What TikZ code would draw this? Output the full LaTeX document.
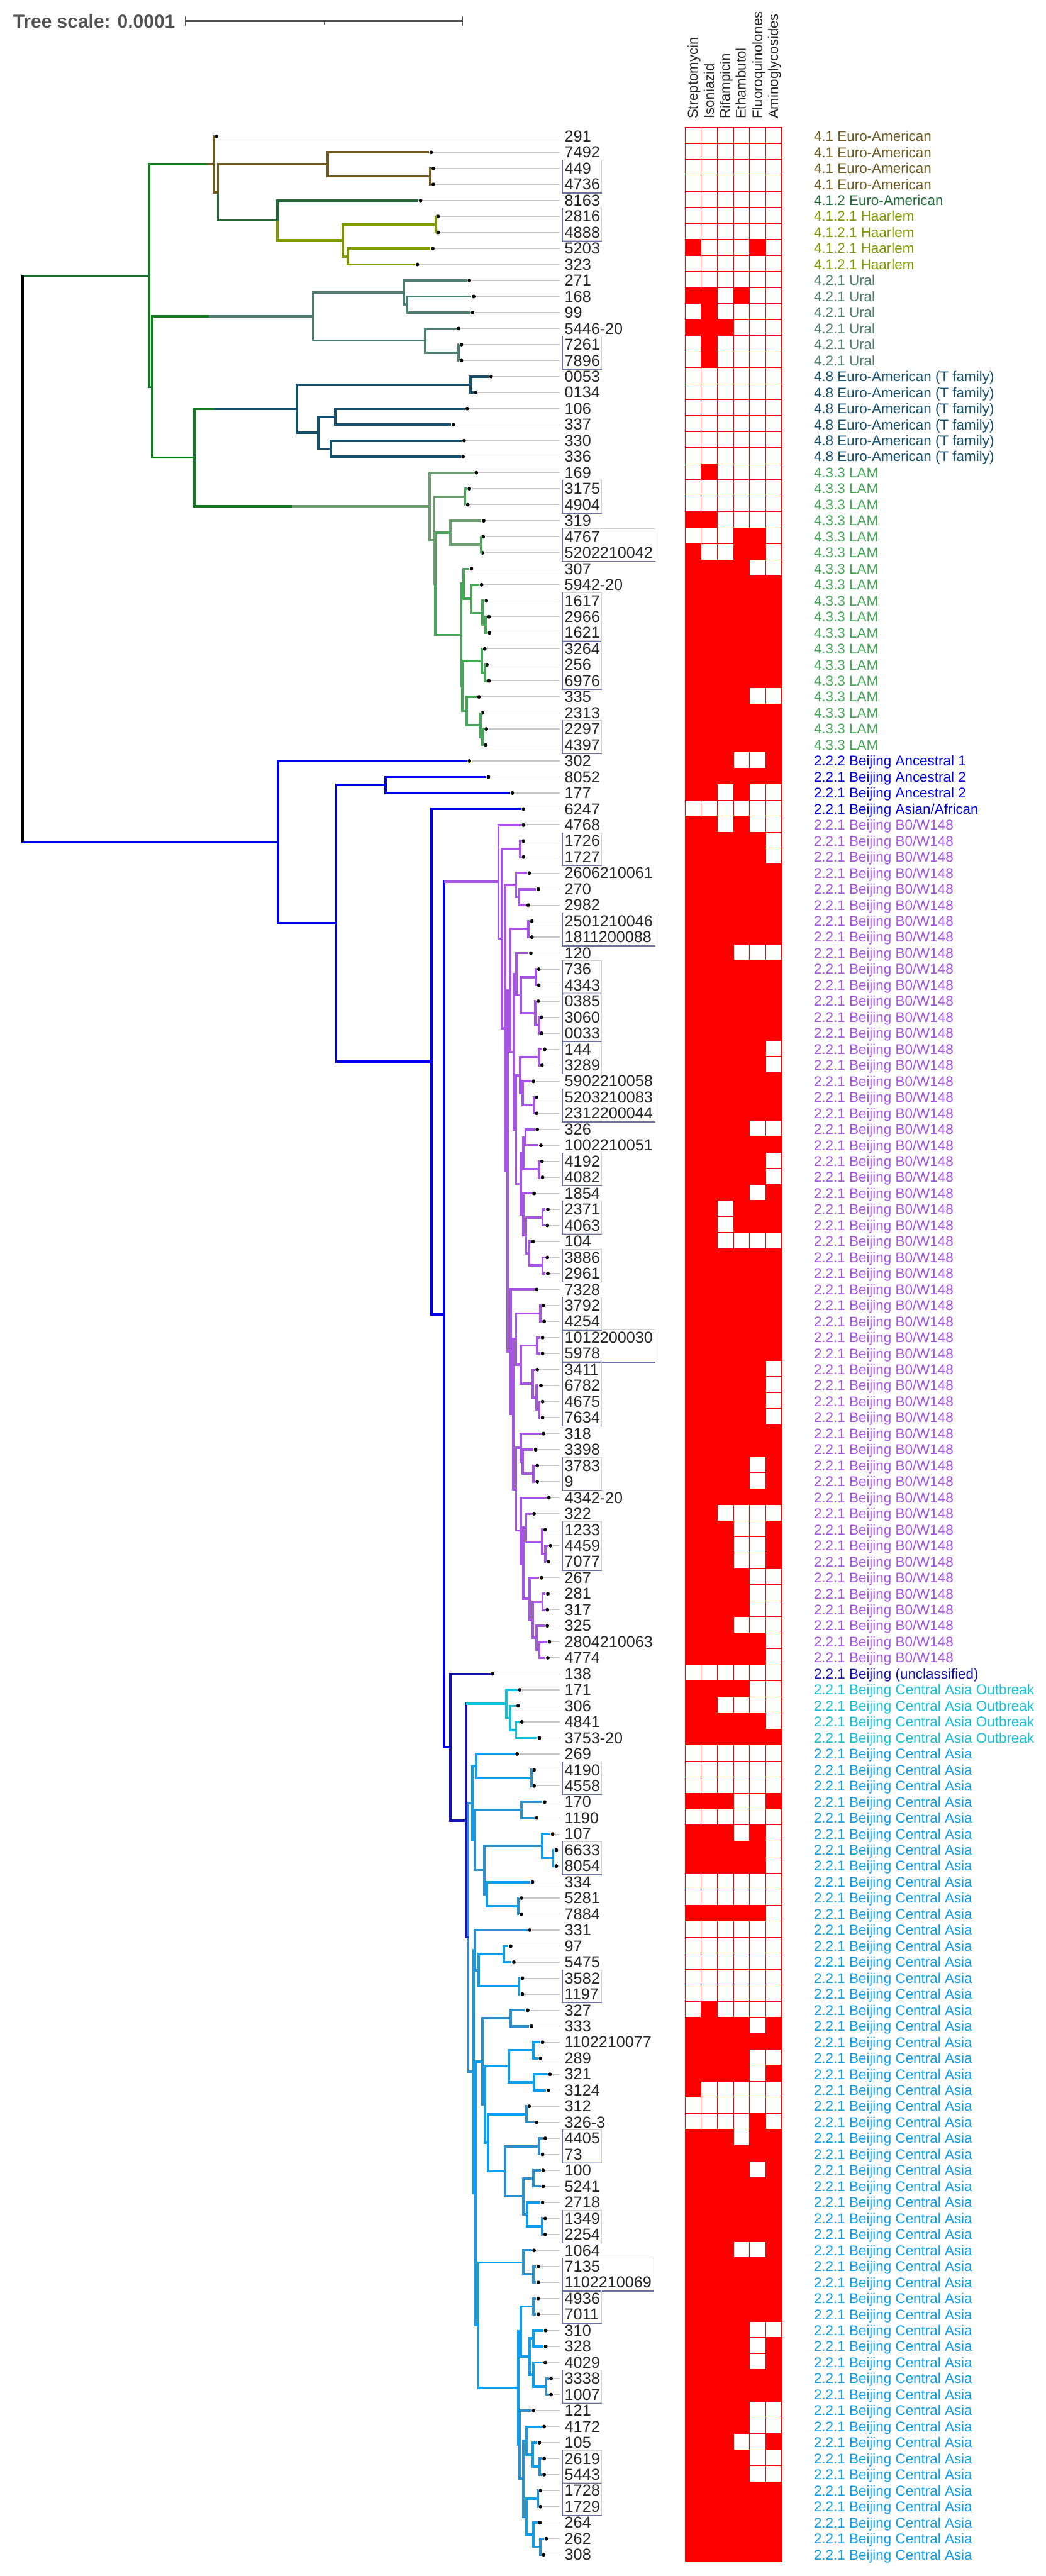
\documentclass[tikz,border=0pt]{standalone}
\usepackage{fontspec}
\setmainfont{Liberation Sans}
\usetikzlibrary{calc,fit}
\definecolor{brn}{HTML}{6E5A20}
\definecolor{eug}{HTML}{1F6B35}
\definecolor{grn}{HTML}{0F7A1E}
\definecolor{hrl}{HTML}{7F9A00}
\definecolor{url}{HTML}{4F7F70}
\definecolor{tfm}{HTML}{14506E}
\definecolor{lmg}{HTML}{6D9D70}
\definecolor{lam}{HTML}{45A857}
\definecolor{blu}{HTML}{0000E6}
\definecolor{nvy}{HTML}{1414B4}
\definecolor{pur}{HTML}{A654E4}
\definecolor{cyn}{HTML}{12C0DC}
\definecolor{sky}{HTML}{0E9EEE}
\definecolor{skd}{HTML}{2A90D0}
\definecolor{grp}{HTML}{6A70A8}
\tikzstyle{branch}=[line width=.045cm]
\tikzstyle{tipdot}=[fill,black,shape=circle,inner sep=0pt,minimum size=.07cm]
\tikzstyle{tiplabel}=[anchor=west,inner xsep=.03cm,inner ysep=0pt,minimum height=.3cm,
  text=black!85,font=\fontsize{8.5}{10}\selectfont]
\tikzstyle{guide}=[draw=black!22,line width=.015cm,shorten >=.05cm]
\tikzstyle{grpbox}=[draw=black!18,line width=.012cm,inner sep=0pt]
\tikzstyle{grpedge}=[draw=grp,line width=.015cm]
\tikzstyle{linlabel}=[anchor=mid west,inner sep=0pt,font=\fontsize{7.56}{9}\selectfont]
\tikzstyle{druglabel}=[anchor=mid west,rotate=90,inner sep=0pt,text=black!85,
  font=\fontsize{7.5}{9}\selectfont]
% [second colour]{name}{x}{first child}{second child}{colour}
\newcommand\clade[6][]{%
  \path ($(#4)!.5!(#5)$) coordinate (#2m);
  \coordinate (#2) at (#3,0 |- #2m);
  \draw[branch,#6] (#2) |- (#4);
  \draw[branch,#6,#1] (#2) |- (#5);
}
\begin{document}
\begin{tikzpicture}[x=.01cm,y=-.30185cm]
  \useasboundingbox (0,-7.514) rectangle (1972,153.33);
  % scale bar
  \node[anchor=west,inner sep=0pt,text=black!68,font=\fontsize{10.1}{12}\selectfont\bfseries]
    (sclabel) at (24,-6.2) {Tree scale: 0.0001};
  \coordinate (sb0) at (349,-6.2);
  \coordinate (sbm) at (611,-6.2);
  \coordinate (sb1) at (872,-6.2);
  \draw[black!68,line width=.03cm] (sb0) -- (sb1);
  \draw[black!68,line width=.015cm] (sb0) +(0,-.3) -- +(0,.3);
  \draw[black!68,line width=.015cm] (sb1) +(0,-.3) -- +(0,.3);
  \draw[black!68,line width=.015cm] (sbm) -- +(0,.22);
  % drug columns
  \foreach \x/\drug [count=\i] in {1306/Streptomycin,1337/Isoniazid,1367/Rifampicin,
    1397/Ethambutol,1428/Fluoroquinolones,1458/Aminoglycosides}
    \node[druglabel] (drug\i) at (\x,-.075) {\drug};
  % resistant cells
  \foreach \a/\b/\cols in {8/8/{0,4},11/11/{0,1,3},12/12/{1},13/13/{0,1,2},14/15/{1},22/22/{1},
    25/25/{0,1},26/26/{3,4},27/27/{0,3,4},28/28/{0,1,2,3},29/35/{0,...,5},36/36/{0,1,2,3},
    37/39/{0,...,5},40/40/{0,1,2,5},41/41/{0,...,5},42/42/{0,1,3},44/44/{0,1,3},
    45/46/{0,...,4},47/51/{0,...,5},52/52/{0,1,2},53/57/{0,...,5},58/59/{0,...,4},
    60/62/{0,...,5},63/63/{0,1,2,3},64/64/{0,...,5},65/66/{0,...,4},67/67/{0,1,2,3,5},
    68/69/{0,1,3,4,5},70/70/{0,1},71/77/{0,...,5},78/81/{0,...,4},82/83/{0,...,5},
    84/85/{0,1,2,3,5},86/86/{0,...,5},87/87/{0,1},88/90/{0,1,2,5},91/93/{0,1,2,3},
    94/94/{0,1,2},95/96/{0,...,4},98/98/{0,1,2,3},99/99/{0,1},100/100/{0,...,4},
    101/101/{0,...,5},105/105/{0,1,2,5},107/107/{0,1,2,4},108/109/{0,...,4},112/112/{0,...,4},
    118/118/{1},119/119/{0,1,2,3,5},120/120/{0,...,5},121/121/{0,1,2,3},122/122/{0,1,2,3,5},
    123/123/{0},125/125/{4},126/126/{0,1,2,4,5},127/127/{0,...,5},128/128/{0,1,2,3,5},
    129/132/{0,...,5},133/133/{0,1,2,5},134/137/{0,...,5},138/138/{0,1,2,3},
    139/140/{0,1,2,3,5},141/142/{0,...,5},143/144/{0,1,2,3},145/145/{0,1,2,5},
    146/147/{0,1,2,3},148/152/{0,...,5}}
    \foreach \c in \cols
      \fill[red] ({1292+30.33*\c},\a-.56) rectangle ({1292+30.33*(\c+1)},\b+.44);
  \foreach \i in {0,...,152}
    \draw[red,line width=.012cm] (1292,\i+.44) -- (1474,\i+.44);
  \foreach \c in {0,...,6}
    \draw[red,line width=.012cm] ({1292+30.33*\c},.44) -- ({1292+30.33*\c},152.44);
  \draw[red,line width=.02cm] (1292,.44) rectangle (1474,152.44);
  % lineage column
  \foreach \a/\b/\txt/\col in {1/4/4.1 Euro-American/brn,5/5/4.1.2 Euro-American/eug,
    6/9/4.1.2.1 Haarlem/hrl,10/15/4.2.1 Ural/url,16/21/4.8 Euro-American (T family)/tfm,
    22/39/4.3.3 LAM/lam,40/40/2.2.2 Beijing Ancestral 1/blu,41/42/2.2.1 Beijing Ancestral 2/blu,
    43/43/{2.2.1 Beijing Asian/African}/blu,44/96/{2.2.1 Beijing B0/W148}/pur,
    97/97/2.2.1 Beijing (unclassified)/nvy,98/101/2.2.1 Beijing Central Asia Outbreak/cyn,
    102/152/2.2.1 Beijing Central Asia/sky}
    \foreach \i in {\a,...,\b}
      \node[linlabel,text=\col] (lin\i) at (1534,\i) {\txt};
  % tips and their labels
  \foreach \lab/\tipx [count=\i] in {291/408,7492/813,449/817,4736/817,8163/793,2816/826,
    4888/826,5203/816,323/787,271/885,168/893,99/891,5446-20/865,7261/870,7896/870,0053/926,
    0134/897,106/881,337/855,330/875,336/873,169/898,3175/885,4904/882,319/912,4767/911,
    5202210042/910,307/889,5942-20/908,1617/917,2966/922,1621/923,3264/914,256/918,6976/922,
    335/903,2313/910,2297/917,4397/916,302/885,8052/921,177/966,6247/987,4768/987,1726/987,
    1727/987,2606210061/998,270/1015,2982/996,2501210046/1003,1811200088/1003,120/1001,
    736/1016,4343/1016,0385/1015,3060/1021,0033/1021,144/1027,3289/1022,5902210058/1006,
    5203210083/1012,2312200044/1012,326/1013,1002210051/1020,4192/1022,4082/1023,1854/1007,
    2371/1033,4063/1032,104/1005,3886/1032,2961/1033,7328/1012,3792/1025,4254/1026,
    1012200030/1023,5978/1023,3411/1013,6782/1020,4675/1023,7634/1023,318/1025,3398/1010,
    3783/1013,9/1013,4342-20/1035,322/1007,1233/1028,4459/1038,7077/1034,267/1021,281/1033,
    317/1032,325/1032,2804210063/1036,4774/1033,138/929,171/980,306/977,4841/984,3753-20/1017,
    269/975,4190/1007,4558/1007,170/1027,1190/1012,107/1042,6633/1049,8054/1049,334/1004,
    5281/983,7884/983,331/999,97/963,5475/969,3582/985,1197/985,327/995,333/1002,
    1102210077/1023,289/1019,321/1037,3124/1034,312/998,326-3/1012,4405/1028,73/1023,100/1024,
    5241/1024,2718/1023,1349/1028,2254/1028,1064/1007,7135/1015,1102210069/1015,4936/1015,
    7011/1015,310/1029,328/1029,4029/1028,3338/1039,1007/1039,121/1006,4172/1026,105/1017,
    2619/1026,5443/1026,1728/1019,1729/1019,264/1018,262/1030,308/1025}{
    \node[tipdot] (t\lab) at (\tipx,\i) {};
    \node[tiplabel] (l\lab) at (1061,\i) {\lab};
    \draw[guide] (t\lab) -- (l\lab);
  }
  % boxes round label groups
  \foreach \a/\b in {449/4736,2816/4888,7261/7896,3175/4904,4767/5202210042,1617/1621,3264/6976,
    2297/4397,1726/1727,2501210046/1811200088,736/4343,0385/0033,144/3289,5203210083/2312200044,
    4192/4082,2371/4063,3886/2961,3792/4254,1012200030/5978,3411/7634,3783/9,1233/7077,4190/4558,
    6633/8054,3582/1197,4405/73,1349/2254,7135/1102210069,4936/7011,3338/1007,2619/5443,1728/1729}{
    \node[grpbox,fit=(l\a)(l\b)] (g\a) {};
    \draw[grpedge] (g\a.north west) |- (g\a.south east);
  }
  % 4.1 Euro-American and Haarlem
  \clade{eu1}{811}{t449}{t4736}{brn}
  \clade{eu2}{618}{t7492}{eu1}{brn}
  \clade{hl1}{822}{t2816}{t4888}{hrl}
  \clade{hl2}{656}{t5203}{t323}{hrl}
  \clade{hl3}{646}{hl1}{hl2}{hrl}
  \clade[hrl]{eu3}{523}{t8163}{hl3}{eug}
  \clade[eug]{eu4}{411}{eu2}{eu3}{brn}
  \clade{eu5}{403}{t291}{eu4}{brn}
  % Ural
  \clade{ur1}{767}{t168}{t99}{url}
  \clade{ur2}{761}{t271}{ur1}{url}
  \clade{ur3}{865}{t7261}{t7896}{url}
  \clade{ur4}{802}{t5446-20}{ur3}{url}
  \clade{ur5}{590}{ur2}{ur4}{url}
  % T family
  \clade{tf1}{887}{t0053}{t0134}{tfm}
  \clade{tf2}{632}{t106}{t337}{tfm}
  \clade{tf3}{624}{t330}{t336}{tfm}
  \clade{tf4}{600}{tf2}{tf3}{tfm}
  \clade{tf5}{560}{tf1}{tf4}{tfm}
  % LAM
  \clade{lm1}{877}{t3175}{t4904}{lam}
  \clade{lm2}{907}{t4767}{t5202210042}{lam}
  \clade{lm3}{849}{t319}{lm2}{lmg}
  \clade{lm4}{916}{t2966}{t1621}{lam}
  \clade{lm5}{910}{t1617}{lm4}{lam}
  \clade{lm6}{889}{t5942-20}{lm5}{lam}
  \clade{lm7}{874}{t307}{lm6}{lam}
  \clade{lm8}{914}{t256}{t6976}{lam}
  \clade{lm9}{908}{t3264}{lm8}{lam}
  \clade{lm10}{910}{t2297}{t4397}{lam}
  \clade{lm11}{906}{t2313}{lm10}{lam}
  \clade{lm12}{880}{t335}{lm11}{lam}
  \clade{lm13}{872}{lm9}{lm12}{lam}
  \clade{lm14}{870}{lm7}{lm13}{lam}
  \clade{lm15}{821}{lm3}{lm14}{lam}
  \clade{lm16}{819}{lm1}{lm15}{lmg}
  \clade{lm17}{810}{t169}{lm16}{lmg}
  % lineage 4 backbone
  \clade{lf}{366}{tf5}{lm17}{grn}
  \clade{lc}{287}{ur5}{lf}{grn}
  \clade{la}{281}{eu5}{lc}{grn}
  \draw[branch,brn] (eu5) -- +(-13,0);
  \draw[branch,url] (ur5) -- +(-196,0);
  \draw[branch,tfm] (tf5) -- +(-155,0);
  \draw[branch,lmg] (lm17) -- +(-260,0);
  % B0/W148
  \clade{pu1}{981}{t1726}{t1727}{pur}
  \clade{pu2}{979}{t270}{t2982}{pur}
  \clade{pu3}{973}{t2606210061}{pu2}{pur}
  \clade{pu4}{996}{t2501210046}{t1811200088}{pur}
  \clade{pu5}{1010}{t736}{t4343}{pur}
  \clade{pu6}{1016}{t3060}{t0033}{pur}
  \clade{pu7}{1009}{t0385}{pu6}{pur}
  \clade{pu8}{982}{pu5}{pu7}{pur}
  \clade{pu9}{974}{t120}{pu8}{pur}
  \clade{pu10}{1016}{t144}{t3289}{pur}
  \clade{pu11}{1007}{t5203210083}{t2312200044}{pur}
  \clade{pu12}{986}{t5902210058}{pu11}{pur}
  \clade{pu13}{981}{pu10}{pu12}{pur}
  \clade{pu14}{991}{t326}{t1002210051}{pur}
  \clade{pu15}{1016}{t4192}{t4082}{pur}
  \clade{pu16}{987}{pu14}{pu15}{pur}
  \clade{pu17}{1023}{t2371}{t4063}{pur}
  \clade{pu18}{1023}{t3886}{t2961}{pur}
  \clade{pu19}{998}{t104}{pu18}{pur}
  \clade{pu20}{992}{pu17}{pu19}{pur}
  \clade{pu21}{987}{t1854}{pu20}{pur}
  \clade{pu22}{982}{pu16}{pu21}{pur}
  \clade{pu23}{973}{pu13}{pu22}{pur}
  \clade{pu24}{969}{pu9}{pu23}{pur}
  \clade{pu25}{962}{pu4}{pu24}{pur}
  \clade{pu26}{1019}{t3792}{t4254}{pur}
  \clade{pu27}{1013}{t1012200030}{t5978}{pur}
  \clade{pu28}{1017}{t4675}{t7634}{pur}
  \clade{pu29}{1012}{t6782}{pu28}{pur}
  \clade{pu30}{1005}{t3411}{pu29}{pur}
  \clade{pu31}{982}{pu27}{pu30}{pur}
  \clade{pu32}{973}{pu26}{pu31}{pur}
  \clade{pu33}{1006}{t3783}{t9}{pur}
  \clade{pu34}{986}{t3398}{pu33}{pur}
  \clade{pu35}{982}{t318}{pu34}{pur}
  \clade{pu36}{1028}{t4459}{t7077}{pur}
  \clade{pu37}{1022}{t1233}{pu36}{pur}
  \clade{pu38}{992}{t322}{pu37}{pur}
  \clade{pu39}{1023}{t281}{t317}{pur}
  \clade{pu40}{1017}{t2804210063}{t4774}{pur}
  \clade{pu41}{1012}{t325}{pu40}{pur}
  \clade{pu42}{1005}{pu39}{pu41}{pur}
  \clade{pu43}{999}{t267}{pu42}{pur}
  \clade{pu44}{987}{pu38}{pu43}{pur}
  \clade{pu45}{982}{t4342-20}{pu44}{pur}
  \clade{pu46}{973}{pu35}{pu45}{pur}
  \clade{pu47}{968}{pu32}{pu46}{pur}
  \clade{pu48}{963}{t7328}{pu47}{pur}
  \clade{pu49}{957}{pu25}{pu48}{pur}
  \clade{pu50}{952}{pu3}{pu49}{pur}
  \clade{pu51}{946}{pu1}{pu50}{pur}
  \clade{pu52}{940}{t4768}{pu51}{pur}
  % Central Asia Outbreak
  \clade{ob1}{973}{t4841}{t3753-20}{cyn}
  \clade{ob2}{962}{t306}{ob1}{cyn}
  \clade{ob3}{955}{t171}{ob2}{cyn}
  % Central Asia
  \clade{ca1}{1002}{t4190}{t4558}{skd}
  \clade{ca2}{898}{t269}{ca1}{sky}
  \clade{ca3}{983}{t170}{t1190}{skd}
  \clade{ca4}{1043}{t6633}{t8054}{sky}
  \clade{ca5}{1022}{t107}{ca4}{sky}
  \clade{ca6}{977}{t5281}{t7884}{skd}
  \clade{ca7}{918}{t334}{ca6}{sky}
  \clade{ca8}{913}{ca5}{ca7}{skd}
  \clade{ca9}{895}{ca3}{ca8}{skd}
  \clade{ca10}{891}{ca2}{ca9}{sky}
  \clade{ca11}{950}{t97}{t5475}{sky}
  \clade{ca12}{979}{t3582}{t1197}{sky}
  \clade{ca13}{903}{ca11}{ca12}{sky}
  \clade{ca14}{895}{t331}{ca13}{skd}
  \clade{ca15}{963}{t327}{t333}{skd}
  \clade{ca16}{1006}{t1102210077}{t289}{sky}
  \clade{ca17}{1007}{t321}{t3124}{sky}
  \clade{ca18}{959}{ca16}{ca17}{sky}
  \clade{ca19}{993}{t312}{t326-3}{skd}
  \clade{ca20}{1016}{t4405}{t73}{skd}
  \clade{ca21}{1006}{t100}{t5241}{skd}
  \clade{ca22}{1022}{t1349}{t2254}{skd}
  \clade{ca23}{994}{t2718}{ca22}{sky}
  \clade{ca24}{987}{ca21}{ca23}{skd}
  \clade{ca25}{952}{ca20}{ca24}{skd}
  \clade{ca26}{920}{ca19}{ca25}{sky}
  \clade{ca27}{914}{ca18}{ca26}{sky}
  \clade{ca28}{910}{ca15}{ca27}{skd}
  \clade{ca29}{1006}{t7135}{t1102210069}{skd}
  \clade{ca30}{987}{t1064}{ca29}{skd}
  \clade{ca31}{1006}{t4936}{t7011}{skd}
  \clade{ca32}{1006}{t310}{t328}{sky}
  \clade{ca33}{1030}{t3338}{t1007}{skd}
  \clade{ca34}{1006}{t4029}{ca33}{sky}
  \clade{ca35}{999}{ca32}{ca34}{sky}
  \clade{ca36}{982}{ca31}{ca35}{sky}
  \clade{ca37}{1018}{t2619}{t5443}{skd}
  \clade{ca38}{1005}{t105}{ca37}{sky}
  \clade{ca39}{993}{t4172}{ca38}{sky}
  \clade{ca40}{1014}{t1728}{t1729}{skd}
  \clade{ca41}{1019}{t262}{t308}{skd}
  \clade{ca42}{1006}{t264}{ca41}{sky}
  \clade{ca43}{993}{ca40}{ca42}{sky}
  \clade{ca44}{987}{ca39}{ca43}{skd}
  \clade{ca45}{980}{t121}{ca44}{skd}
  \clade{ca46}{977}{ca36}{ca45}{sky}
  \clade{ca47}{902}{ca30}{ca46}{sky}
  \clade{ca48}{897}{ca28}{ca47}{sky}
  \clade{ca49}{893}{ca14}{ca48}{sky}
  \clade{ca50}{883}{ca10}{ca49}{skd}
  % lineage 2 backbone
  \clade{bj1}{727}{t8052}{t177}{blu}
  \clade{bj5}{879}{ob3}{ca50}{nvy}
  \clade{bj4}{849}{t138}{bj5}{nvy}
  \clade{bj3}{837}{pu52}{bj4}{blu}
  \clade{bj2}{814}{t6247}{bj3}{blu}
  \clade{bj6}{634}{bj1}{bj2}{blu}
  \clade{bj7}{524}{t302}{bj6}{blu}
  \draw[branch,cyn] (ob3) -- +(-76,0);
  \draw[branch,pur] (pu52) -- +(-103,0);
  % root
  \clade[blu]{root}{43}{la}{bj7}{eug}
  \draw[branch,black] (root |- la) -- (root |- bj7);
\end{tikzpicture}
\end{document}
